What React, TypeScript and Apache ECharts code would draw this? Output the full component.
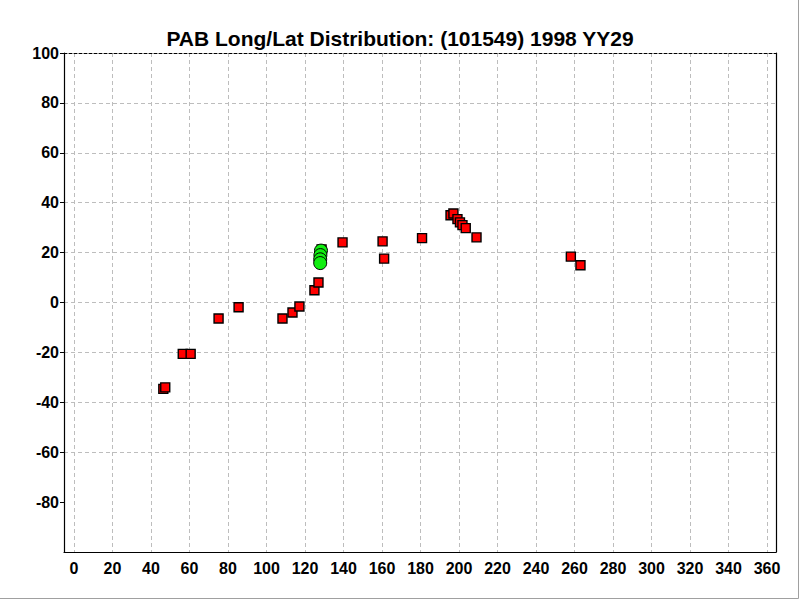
import React, { useEffect, useRef } from "react";
import * as echarts from "echarts";

const titleText = "PAB Long/Lat Distribution: (101549) 1998 YY29";

// [longitude, latitude]
const redPoints: number[][] = [
  [46.4, -34.6], [47.4, -34.0], [56.5, -20.6], [60.6, -20.6], [75.1, -6.4],
  [85.5, -1.9], [108.3, -6.4], [113.5, -4.0], [117.1, -1.6], [124.9, 4.9],
  [127.0, 8.0], [128.6, 21.3], [139.5, 24.1], [160.3, 24.5], [161.1, 17.6],
  [180.8, 25.8], [195.6, 35.0], [197.1, 35.7], [199.2, 33.4], [200.5, 32.1],
  [201.8, 31.0], [203.5, 29.8], [209.1, 26.1], [258.1, 18.4], [263.1, 14.9],
];

const greenPoints: number[][] = [
  [128.3, 20.8], [128.0, 19.0], [127.9, 17.3], [127.9, 15.8],
];

const xMin = 0;
const xMax = 360;
const xStep = 20;
const yMin = -100;
const yMax = 100;
const yStep = 20;
const yTickValues = [-80, -60, -40, -20, 0, 20, 40, 60, 80, 100];

const FONT = "'Liberation Sans', Arial, Helvetica, sans-serif";

export default function App() {
  const ref = useRef<HTMLDivElement>(null);

  useEffect(() => {
    if (!ref.current) return;
    const chart = echarts.init(ref.current, null, { renderer: "svg" });
    const hidden = { show: false };
    chart.setOption({
      animation: false,
      backgroundColor: "#ffffff",
      title: {
        text: titleText,
        left: "center",
        top: 23,
        textStyle: { fontFamily: FONT, fontWeight: "bold", fontSize: 21, color: "#000" },
      },
      grid: [
        { left: 64, right: 24, top: 53, bottom: 48 },
        { left: 74, right: 33, top: 53, bottom: 48 },
      ],
      xAxis: [
        {
          gridIndex: 0, type: "value", min: 0, max: 1, position: "bottom",
          axisLine: { show: true, onZero: false, lineStyle: { color: "#000", width: 1.2 } },
          axisTick: hidden, axisLabel: hidden, splitLine: hidden,
        },
        {
          gridIndex: 0, type: "value", min: 0, max: 1, position: "top",
          axisLine: { show: true, onZero: false, lineStyle: { color: "#000", width: 1, type: [3, 2] } },
          axisTick: hidden, axisLabel: hidden, splitLine: hidden,
        },
        {
          gridIndex: 1, type: "value", min: xMin, max: xMax, interval: xStep, position: "bottom",
          axisLine: { show: false, onZero: false }, axisTick: hidden,
          axisLabel: {
            show: true, margin: 8, color: "#000", fontFamily: FONT, fontWeight: "bold", fontSize: 16,
          },
          splitLine: { show: true, lineStyle: { color: "#bdbdbd", width: 1, type: [4, 3] } },
        },
      ],
      yAxis: [
        {
          gridIndex: 0, type: "value", min: yMin, max: yMax, interval: yStep, position: "left",
          axisLine: { show: true, onZero: false, lineStyle: { color: "#000", width: 1.2 } },
          axisTick: { show: true, length: 4, inside: false, customValues: yTickValues, lineStyle: { color: "#000" } },
          axisLabel: {
            show: true, margin: 5, color: "#000", fontFamily: FONT, fontWeight: "bold", fontSize: 16,
            formatter: (v: number) => (v === yMin ? "" : String(v)),
          },
          splitLine: {
            show: true, showMaxLine: false, showMinLine: false,
            lineStyle: { color: "#bdbdbd", width: 1, type: [4, 3] },
          },
        },
        {
          gridIndex: 0, type: "value", min: yMin, max: yMax, position: "right",
          axisLine: { show: true, onZero: false, lineStyle: { color: "#000", width: 1.2 } },
          axisTick: hidden, axisLabel: hidden, splitLine: hidden,
        },
        {
          gridIndex: 1, type: "value", min: yMin, max: yMax, show: false,
          splitLine: hidden,
        },
      ],
      series: [
        {
          type: "scatter", xAxisIndex: 2, yAxisIndex: 2, data: redPoints,
          symbol: "rect", symbolSize: 9,
          itemStyle: { color: "#ff0000", borderColor: "#000", borderWidth: 1.4, opacity: 1 },
          z: 3,
        },
        {
          type: "scatter", xAxisIndex: 2, yAxisIndex: 2, data: greenPoints,
          symbol: "circle", symbolSize: 13,
          itemStyle: { color: "#11ee11", borderColor: "#000", borderWidth: 1, opacity: 1 },
          z: 4,
        },
      ],
      graphic: [
        { type: "line", shape: { x1: 0, y1: 598.5, x2: 798.5, y2: 598.5 }, style: { stroke: "#a0a0a0", lineWidth: 1 }, z: 10 },
        { type: "line", shape: { x1: 798.5, y1: 0, x2: 798.5, y2: 598.5 }, style: { stroke: "#a0a0a0", lineWidth: 1 }, z: 10 },
      ],
    });
    return () => chart.dispose();
  }, []);

  return (
    <div
      ref={ref}
      style={{ position: "absolute", left: 0, top: 0, width: 800, height: 600 }}
    />
  );
}
